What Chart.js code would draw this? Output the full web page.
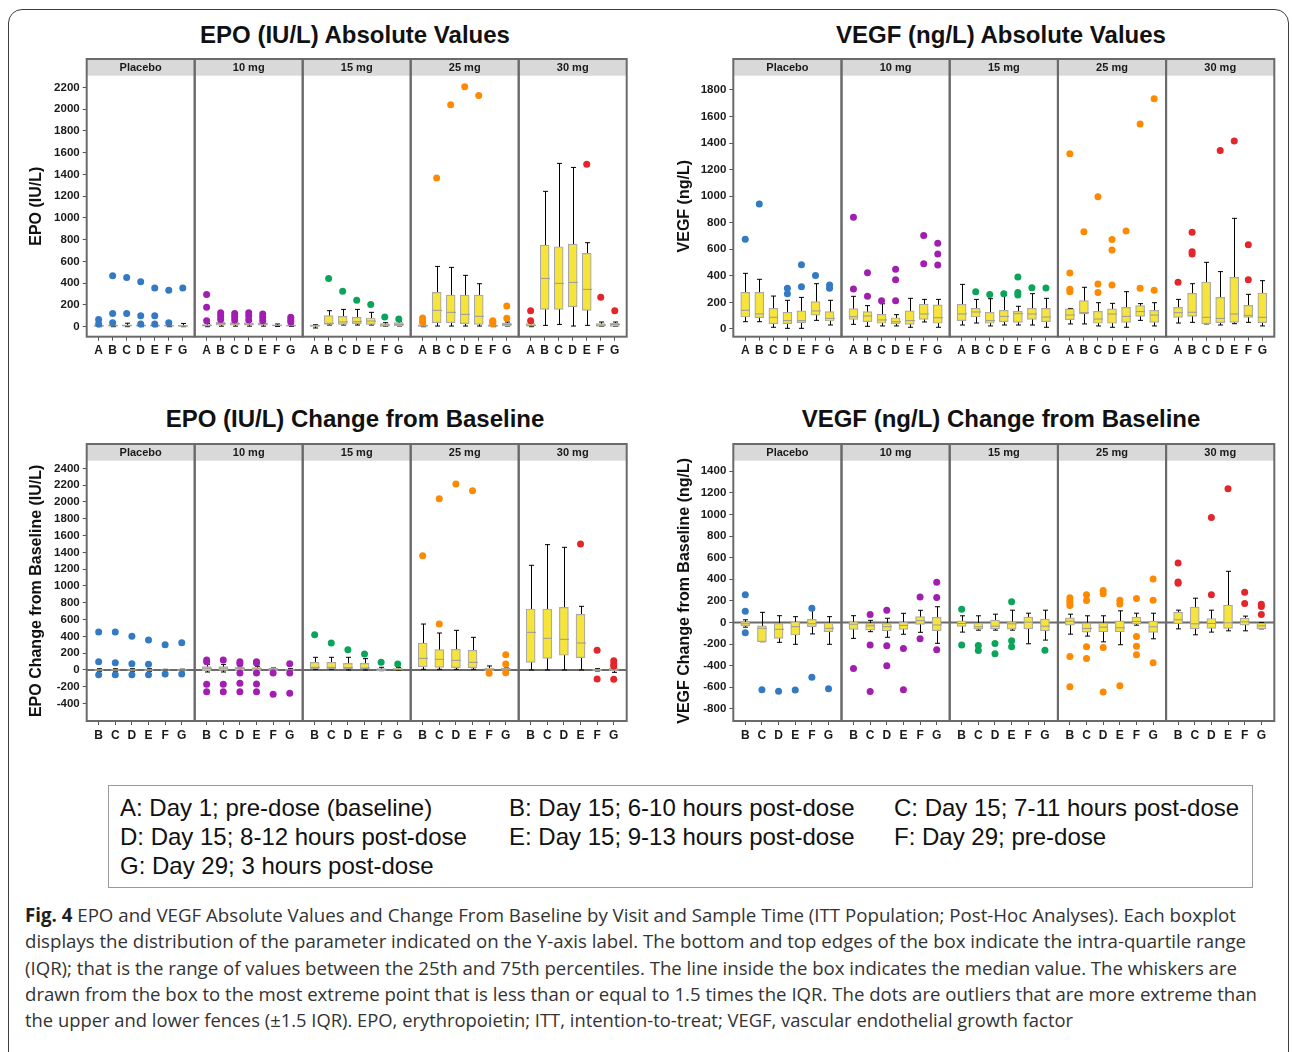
<!DOCTYPE html>
<html>
<head>
<meta charset="utf-8">
<script src="https://cdn.jsdelivr.net/npm/chart.js@4.4.1/dist/chart.umd.min.js"></script>
<style>
  body { margin: 0; width: 1292px; height: 1052px; position: relative; overflow: hidden; background: #fff;
         font-family: "Liberation Sans", Arial, sans-serif; }
  .frame { position: absolute; left: 8px; top: 9px; width: 1279px; height: 1100px;
           border: 1.5px solid #3d3d3d; border-radius: 14px; }
  .title { position: absolute; transform: translateX(-50%); white-space: nowrap;
           font-weight: bold; font-size: 24px; line-height: 28px; color: #111; }
  canvas { position: absolute; }
  .legend { position: absolute; left: 108px; top: 785px; width: 1143px; height: 101px; border: 1px solid #9a9a9a; }
  .legend span { position: absolute; font-size: 24px; line-height: 29px; white-space: nowrap; color: #111; }
  .caption { position: absolute; left: 25px; top: 902px; font-family: "Open Sans", "Noto Sans", sans-serif;
             font-size: 19px; line-height: 26.3px; color: #333; }
  .caption div { white-space: nowrap; }
  .caption span.ln { display: inline-block; transform-origin: 0 50%; }
  .caption b { color: #1f1f1f; }
</style>
</head>
<body>
<div class="frame"></div>

<div class="title" style="left:355px;top:21px">EPO (IU/L) Absolute Values</div>
<div class="title" style="left:1001px;top:21px">VEGF (ng/L) Absolute Values</div>
<div class="title" style="left:355px;top:405px">EPO (IU/L) Change from Baseline</div>
<div class="title" style="left:1001px;top:405px">VEGF (ng/L) Change from Baseline</div>

<canvas id="epoAbs" width="620" height="312" style="left:20px;top:58px;width:620px;height:312px"></canvas>
<canvas id="vegfAbs" width="620" height="312" style="left:668px;top:58px;width:620px;height:312px"></canvas>
<canvas id="epoChg" width="620" height="312" style="left:20px;top:443px;width:620px;height:312px"></canvas>
<canvas id="vegfChg" width="620" height="312" style="left:668px;top:443px;width:620px;height:312px"></canvas>

<div class="legend">
  <span style="left:11px;top:7px">A: Day 1; pre-dose (baseline)</span>
  <span style="left:400px;top:7px">B: Day 15; 6-10 hours post-dose</span>
  <span style="left:785px;top:7px">C: Day 15; 7-11 hours post-dose</span>
  <span style="left:11px;top:36px">D: Day 15; 8-12 hours post-dose</span>
  <span style="left:400px;top:36px">E: Day 15; 9-13 hours post-dose</span>
  <span style="left:785px;top:36px">F: Day 29; pre-dose</span>
  <span style="left:11px;top:65px">G: Day 29; 3 hours post-dose</span>
</div>

<div class="caption">
  <div><span class="ln" data-w="1211"><b>Fig. 4</b> EPO and VEGF Absolute Values and Change From Baseline by Visit and Sample Time (ITT Population; Post-Hoc Analyses). Each boxplot</span></div>
  <div><span class="ln" data-w="1221">displays the distribution of the parameter indicated on the Y-axis label. The bottom and top edges of the box indicate the intra-quartile range</span></div>
  <div><span class="ln" data-w="1212">(IQR); that is the range of values between the 25th and 75th percentiles. The line inside the box indicates the median value. The whiskers are</span></div>
  <div><span class="ln" data-w="1232">drawn from the box to the most extreme point that is less than or equal to 1.5 times the IQR. The dots are outliers that are more extreme than</span></div>
  <div><span class="ln" data-w="1048">the upper and lower fences (±1.5 IQR). EPO, erythropoietin; ITT, intention-to-treat; VEGF, vascular endothelial growth factor</span></div>
</div>

<script>
/* Facets and visits */
const GROUPS = ['Placebo', '10 mg', '15 mg', '25 mg', '30 mg'];
const GROUP_COLORS = ['#337ac3', '#a11fb0', '#0aa55a', '#fd8a00', '#e3262a'];
const ABS_VISITS = ['A', 'B', 'C', 'D', 'E', 'F', 'G'];
const CHG_VISITS = ['B', 'C', 'D', 'E', 'F', 'G'];

/* Tick labels */
const EPO_ABS_TICKS = [0, 200, 400, 600, 800, 1000, 1200, 1400, 1600, 1800, 2000, 2200];
const VEGF_ABS_TICKS = [0, 200, 400, 600, 800, 1000, 1200, 1400, 1600, 1800];
const EPO_CHG_TICKS = [-400, -200, 0, 200, 400, 600, 800, 1000, 1200, 1400, 1600, 1800, 2000, 2200, 2400];
const VEGF_CHG_TICKS = [-800, -600, -400, -200, 0, 200, 400, 600, 800, 1000, 1200, 1400];

/* Boxes: [lower whisker, Q1, median, Q3, upper whisker] per group, per visit */
const EPO_ABS_BOX = [
  [[0, 3, 8, 14, 28], [0, 4, 9, 16, 30], [0, 5, 10, 18, 32], [0, 4, 9, 16, 28], [0, 4, 9, 16, 28], [0, 4, 8, 14, 24], [0, 3, 7, 13, 30]],
  [[0, 5, 12, 20, 30], [5, 15, 28, 40, 60], [5, 15, 28, 38, 55], [5, 15, 25, 35, 50], [5, 15, 25, 35, 50], [2, 8, 12, 18, 25], [2, 5, 10, 15, 25]],
  [[-12, 2, 8, 14, 18], [15, 21, 31, 101, 147], [15, 21, 43, 95, 159], [15, 28, 46, 86, 159], [15, 21, 52, 80, 132], [3, 3, 15, 28, 37], [6, 6, 21, 37, 46]],
  [[0, 2, 8, 18, 25], [6, 37, 150, 315, 554], [6, 37, 132, 291, 545], [6, 28, 113, 291, 472], [6, 21, 95, 291, 395], [0, 2, 8, 18, 25], [6, 6, 21, 34, 43]],
  [[0, 0, 12, 28, 35], [12, 159, 444, 750, 1244], [21, 159, 398, 735, 1501], [6, 184, 407, 760, 1464], [12, 150, 343, 674, 772], [3, 3, 15, 28, 43], [3, 3, 21, 34, 43]],
];
const EPO_ABS_OUT = [
  [[67, 25], [469, 122, 37], [453, 122], [413, 101, 25], [355, 101, 25], [334, 37], [355]],
  [[297, 178, 55], [129, 98, 67], [122, 92, 61], [129, 98, 61], [116, 86, 55], [], [86, 61, 43]],
  [[], [444], [325], [242], [205], [89], [70]],
  [[80, 55, 40], [1366], [2040], [2205], [2126], [55, 40, 30], [190, 77]],
  [[147, 55], [], [], [], [1492], [270], [147]],
];

const VEGF_ABS_BOX = [
  [[55, 90, 141, 276, 419], [55, 85, 113, 276, 374], [13, 40, 88, 156, 248], [5, 40, 63, 126, 216], [5, 48, 63, 136, 238], [65, 105, 136, 206, 341], [30, 60, 80, 131, 216]],
  [[35, 73, 93, 153, 246], [20, 55, 98, 131, 176], [23, 43, 68, 110, 190], [23, 40, 55, 85, 108], [13, 35, 63, 136, 231], [53, 73, 113, 188, 223], [13, 43, 85, 181, 223]],
  [[30, 63, 113, 186, 336], [45, 90, 128, 156, 223], [23, 43, 63, 126, 228], [30, 55, 95, 141, 254], [30, 50, 115, 133, 171], [30, 73, 113, 156, 266], [13, 55, 90, 156, 231]],
  [[38, 70, 105, 151, 155], [38, 113, 123, 213, 314], [23, 43, 75, 133, 198], [13, 43, 113, 151, 193], [13, 50, 95, 163, 281], [65, 95, 131, 176, 191], [23, 50, 105, 141, 198]],
  [[45, 88, 123, 163, 223], [50, 95, 126, 269, 341], [38, 40, 88, 354, 502], [30, 48, 80, 238, 432], [40, 50, 113, 389, 833], [50, 88, 103, 178, 261], [23, 48, 88, 271, 364]],
];
const VEGF_ABS_OUT = [
  [[675], [941], [], [306, 266], [484, 319], [402], [331, 306]],
  [[841, 301], [424, 246], [213], [449, 371, 213], [], [703, 492], [645, 565, 482]],
  [[], [281], [259], [266], [392, 274, 256], [311], [309]],
  [[1320, 422, 299, 281], [733], [996, 339, 274], [673, 595, 331], [738], [1544, 306], [1734, 291]],
  [[351], [728, 582, 565], [], [1343], [1416], [635, 371], []],
];

const EPO_CHG_BOX = [
  [[-15, -5, 0, 5, 15], [-15, -5, 0, 5, 15], [-15, -5, 0, 5, 15], [-15, -5, 0, 5, 15], [-8, -3, 0, 3, 8], [-10, -4, 0, 4, 10]],
  [[-24, -8, 20, 40, 67], [-24, -5, 20, 40, 67], [-12, -8, 16, 32, 52], [-28, -12, 12, 28, 44], [-8, -8, 8, 20, 24], [-4, -4, 4, 12, 16]],
  [[8, 16, 32, 91, 151], [8, 12, 32, 91, 151], [0, 12, 28, 79, 151], [0, 12, 24, 79, 135], [-8, -8, 4, 16, 32], [0, 0, 8, 20, 28]],
  [[8, 36, 139, 321, 547], [8, 32, 127, 242, 440], [8, 28, 115, 246, 472], [8, 28, 91, 234, 389], [-8, -8, 4, 24, 48], [-4, -4, 8, 20, 24]],
  [[0, 91, 448, 726, 1246], [0, 139, 377, 726, 1492], [0, 175, 365, 746, 1460], [0, 147, 321, 662, 758], [-12, -12, -2, 12, 16], [-28, -8, 4, 24, 32]],
];
const EPO_CHG_OUT = [
  [[452, 99, -56], [452, 87, -56], [401, 75, -56], [357, 67, -56], [301, -48], [325, -48]],
  [[119, 99, -171, -258], [119, -171, -258], [99, 75, -36, -159, -258], [99, 83, -36, -167, -258], [-36, -290], [75, -36, -278]],
  [[421], [321], [242], [190], [91], [71]],
  [[1361], [2039, 547], [2214], [2134], [-40], [182, 71, -32]],
  [[], [], [], [1500], [234, -107], [111, 71, 48, -111]],
];

const VEGF_CHG_BOX = [
  [[-43, -33, -12, 7, 25], [-178, -178, -54, -32, 94], [-184, -147, -63, -8, 63], [-202, -116, -39, 7, 54], [-106, -39, -12, 30, 116], [-202, -85, -54, 0, 54]],
  [[-147, -63, -16, 7, 63], [-85, -70, -31, -8, 20], [-137, -78, -39, -8, 39], [-109, -63, -27, 4, 85], [-91, -17, 17, 54, 113], [-193, -76, -23, 48, 146]],
  [[-89, -37, -9, 15, 62], [-71, -62, -40, 0, 62], [-71, -59, -34, 22, 77], [-71, -62, -12, 9, 114], [-197, -59, 3, 49, 86], [-163, -77, -34, 31, 114]],
  [[-108, -25, 12, 43, 77], [-126, -89, -55, -3, 62], [-179, -86, -43, 0, 62], [-206, -86, -49, 15, 108], [-25, -15, 9, 49, 86], [-151, -92, -40, 12, 86]],
  [[-59, -12, 25, 95, 114], [-114, -59, -12, 142, 225], [-89, -55, -9, 37, 114], [-77, -55, -3, 160, 474], [-77, -25, 6, 40, 59], [-59, -59, -31, -6, 0]],
];
const VEGF_CHG_OUT = [
  [[256, 105, -95], [-622], [-637], [-625], [132, -508], [-613]],
  [[-425], [74, -209, -640], [114, -216, -400], [-240, -622], [237, -151], [373, 231, -253]],
  [[123, -209], [-213, -259], [-194, -290], [191, -169, -225], [], [-256]],
  [[228, 203, 182, 157, -314, -594], [256, 203, -225, -333], [296, 265, -231, -644], [206, 172, -585], [222, -129, -219, -299], [403, 206, -373]],
  [[551, 376, 363], [], [973, 256], [1238], [280, 176], [169, 148, 74]],
];

Chart.defaults.font.family = '"Liberation Sans", Arial, sans-serif';
Chart.defaults.color = '#1a1a1a';

const BOX_FILL = '#f7e43a';
const BOX_EDGE = '#a9a9a9';
const PANEL_EDGE = '#6a6a6a';
const STRIP_FILL = '#d9d9d9';

/* ggplot-like facets drawn onto one chart: whiskers, medians, strips, frames */
function facetPlugin(cfg) {
  const pos = (g, i) => g * cfg.width + cfg.offset + i;
  return {
    id: 'facets',
    beforeDatasetsDraw(chart) {
      const { ctx, chartArea: a, scales: { x, y } } = chart;
      ctx.save();
      if (cfg.zero) {
        const y0 = y.getPixelForValue(0);
        ctx.strokeStyle = PANEL_EDGE;
        ctx.lineWidth = 2;
        ctx.beginPath();
        ctx.moveTo(a.left, y0);
        ctx.lineTo(a.right, y0);
        ctx.stroke();
      }
      ctx.strokeStyle = '#000';
      ctx.lineWidth = 1;
      cfg.box.forEach((grp, g) => grp.forEach((b, i) => {
        const px = Math.round(x.getPixelForValue(pos(g, i))) + 0.5;
        const lo = y.getPixelForValue(b[0]);
        const hi = y.getPixelForValue(b[4]);
        ctx.beginPath();
        ctx.moveTo(px, lo);
        ctx.lineTo(px, hi);
        ctx.moveTo(px - 2.5, lo);
        ctx.lineTo(px + 2.5, lo);
        ctx.moveTo(px - 2.5, hi);
        ctx.lineTo(px + 2.5, hi);
        ctx.stroke();
      }));
      ctx.restore();
    },
    afterDatasetDraw(chart, args) {
      if (args.meta.type !== 'bar') return;
      const { ctx, scales: { x, y } } = chart;
      ctx.save();
      ctx.strokeStyle = '#999';
      ctx.lineWidth = 1;
      cfg.box.forEach((grp, g) => grp.forEach((b, i) => {
        const px = Math.round(x.getPixelForValue(pos(g, i))) + 0.5;
        const md = y.getPixelForValue(b[2]);
        ctx.beginPath();
        ctx.moveTo(px - 4.5, md);
        ctx.lineTo(px + 4.5, md);
        ctx.stroke();
      }));
      ctx.restore();
    },
    afterDraw(chart) {
      const { ctx, chartArea: a, scales: { x } } = chart;
      const stripTop = a.top - 16.7;
      ctx.save();
      GROUPS.forEach((name, g) => {
        const x0 = x.getPixelForValue(g * cfg.width);
        const x1 = x.getPixelForValue((g + 1) * cfg.width);
        ctx.fillStyle = STRIP_FILL;
        ctx.fillRect(x0, stripTop, x1 - x0, a.top - stripTop);
        ctx.fillStyle = '#1a1a1a';
        ctx.font = 'bold 11px "Liberation Sans", Arial, sans-serif';
        ctx.textAlign = 'center';
        ctx.textBaseline = 'middle';
        ctx.fillText(name, (x0 + x1) / 2, stripTop + 8.6);
      });
      ctx.strokeStyle = PANEL_EDGE;
      ctx.lineWidth = 2;
      GROUPS.forEach((name, g) => {
        const x0 = x.getPixelForValue(g * cfg.width);
        const x1 = x.getPixelForValue((g + 1) * cfg.width);
        ctx.strokeRect(x0, stripTop, x1 - x0, a.bottom - stripTop);
      });
      ctx.restore();
    },
  };
}

function buildPanel(canvasId, cfg) {
  const n = cfg.visits.length;
  const pos = (g, i) => g * cfg.width + cfg.offset + i;
  const xTicks = [];
  GROUPS.forEach((_, g) => cfg.visits.forEach((_, i) => xTicks.push(pos(g, i))));

  const boxes = [];
  cfg.box.forEach((grp, g) => grp.forEach((b, i) => boxes.push({ x: pos(g, i), y: [b[1], b[3]] })));

  const outliers = GROUPS.map((name, g) => {
    const pts = [];
    cfg.out[g].forEach((vals, i) => vals.forEach((v) => pts.push({ x: pos(g, i), y: v })));
    return {
      type: 'scatter',
      label: name,
      data: pts,
      order: 1,
      backgroundColor: GROUP_COLORS[g],
      borderWidth: 0,
      pointRadius: 3.5,
      pointHoverRadius: 3.5,
    };
  });

  const tickLine = { display: true, drawOnChartArea: false, drawTicks: true, tickLength: 4, color: '#555', offset: false };

  return new Chart(document.getElementById(canvasId), {
    type: 'bar',
    data: {
      datasets: [
        {
          type: 'bar',
          label: 'IQR',
          data: boxes,
          order: 2,
          backgroundColor: BOX_FILL,
          borderColor: BOX_EDGE,
          borderWidth: 1.2,
          borderSkipped: false,
          barThickness: 9,
        },
        ...outliers,
      ],
    },
    options: {
      responsive: false,
      animation: false,
      events: [],
      layout: { autoPadding: false, padding: { top: 17.7, right: cfg.right, bottom: 0, left: 0 } },
      plugins: { legend: { display: false }, tooltip: { enabled: false }, title: { display: false } },
      scales: {
        x: {
          type: 'linear',
          offset: false,
          min: 0,
          max: GROUPS.length * cfg.width,
          grid: tickLine,
          border: { display: false },
          afterBuildTicks: (s) => { s.ticks = xTicks.map((v) => ({ value: v })); },
          afterFit: (s) => { s.height = cfg.xh; },
          ticks: {
            autoSkip: false,
            maxRotation: 0,
            padding: 3,
            color: '#1a1a1a',
            font: { size: 12, weight: 'bold' },
            callback: (v, i) => cfg.visits[i % n],
          },
        },
        y: {
          type: 'linear',
          min: cfg.min,
          max: cfg.max,
          grid: tickLine,
          border: { display: false },
          afterBuildTicks: (s) => { s.ticks = cfg.ticks.map((v) => ({ value: v })); },
          afterFit: (s) => { s.width = cfg.yw; },
          ticks: {
            padding: 3,
            color: '#1a1a1a',
            font: { size: 11.5, weight: 'bold' },
            callback: (v) => String(v),
          },
          title: {
            display: true,
            text: cfg.ytitle,
            color: '#111',
            font: { size: 16, weight: 'bold' },
            padding: { top: 7, bottom: 0 },
          },
        },
      },
    },
    plugins: [facetPlugin(cfg)],
  });
}

buildPanel('epoAbs', {
  box: EPO_ABS_BOX, out: EPO_ABS_OUT, visits: ABS_VISITS, ticks: EPO_ABS_TICKS,
  min: -92, max: 2307, ytitle: 'EPO (IU/L)', width: 7.7, offset: 0.85,
  zero: false, yw: 66.7, right: 13.3, xh: 33.3,
});
buildPanel('vegfAbs', {
  box: VEGF_ABS_BOX, out: VEGF_ABS_OUT, visits: ABS_VISITS, ticks: VEGF_ABS_TICKS,
  min: -58, max: 1907, ytitle: 'VEGF (ng/L)', width: 7.7, offset: 0.85,
  zero: false, yw: 65.3, right: 13.7, xh: 33.3,
});
buildPanel('epoChg', {
  box: EPO_CHG_BOX, out: EPO_CHG_OUT, visits: CHG_VISITS, ticks: EPO_CHG_TICKS,
  min: -607, max: 2491, ytitle: 'EPO Change from Baseline (IU/L)', width: 6.5, offset: 0.72,
  zero: true, yw: 66.7, right: 13.3, xh: 34,
});
buildPanel('vegfChg', {
  box: VEGF_CHG_BOX, out: VEGF_CHG_OUT, visits: CHG_VISITS, ticks: VEGF_CHG_TICKS,
  min: -912, max: 1498, ytitle: 'VEGF Change from Baseline (ng/L)', width: 6.5, offset: 0.72,
  zero: true, yw: 65.3, right: 13.7, xh: 34,
});

/* Caption lines are justified in the original: fit each to its measured width */
document.querySelectorAll('.caption span.ln').forEach((el) => {
  const target = Number(el.dataset.w);
  const w = el.getBoundingClientRect().width;
  if (w > 0) el.style.transform = `scaleX(${target / w})`;
});
</script>
</body>
</html>
